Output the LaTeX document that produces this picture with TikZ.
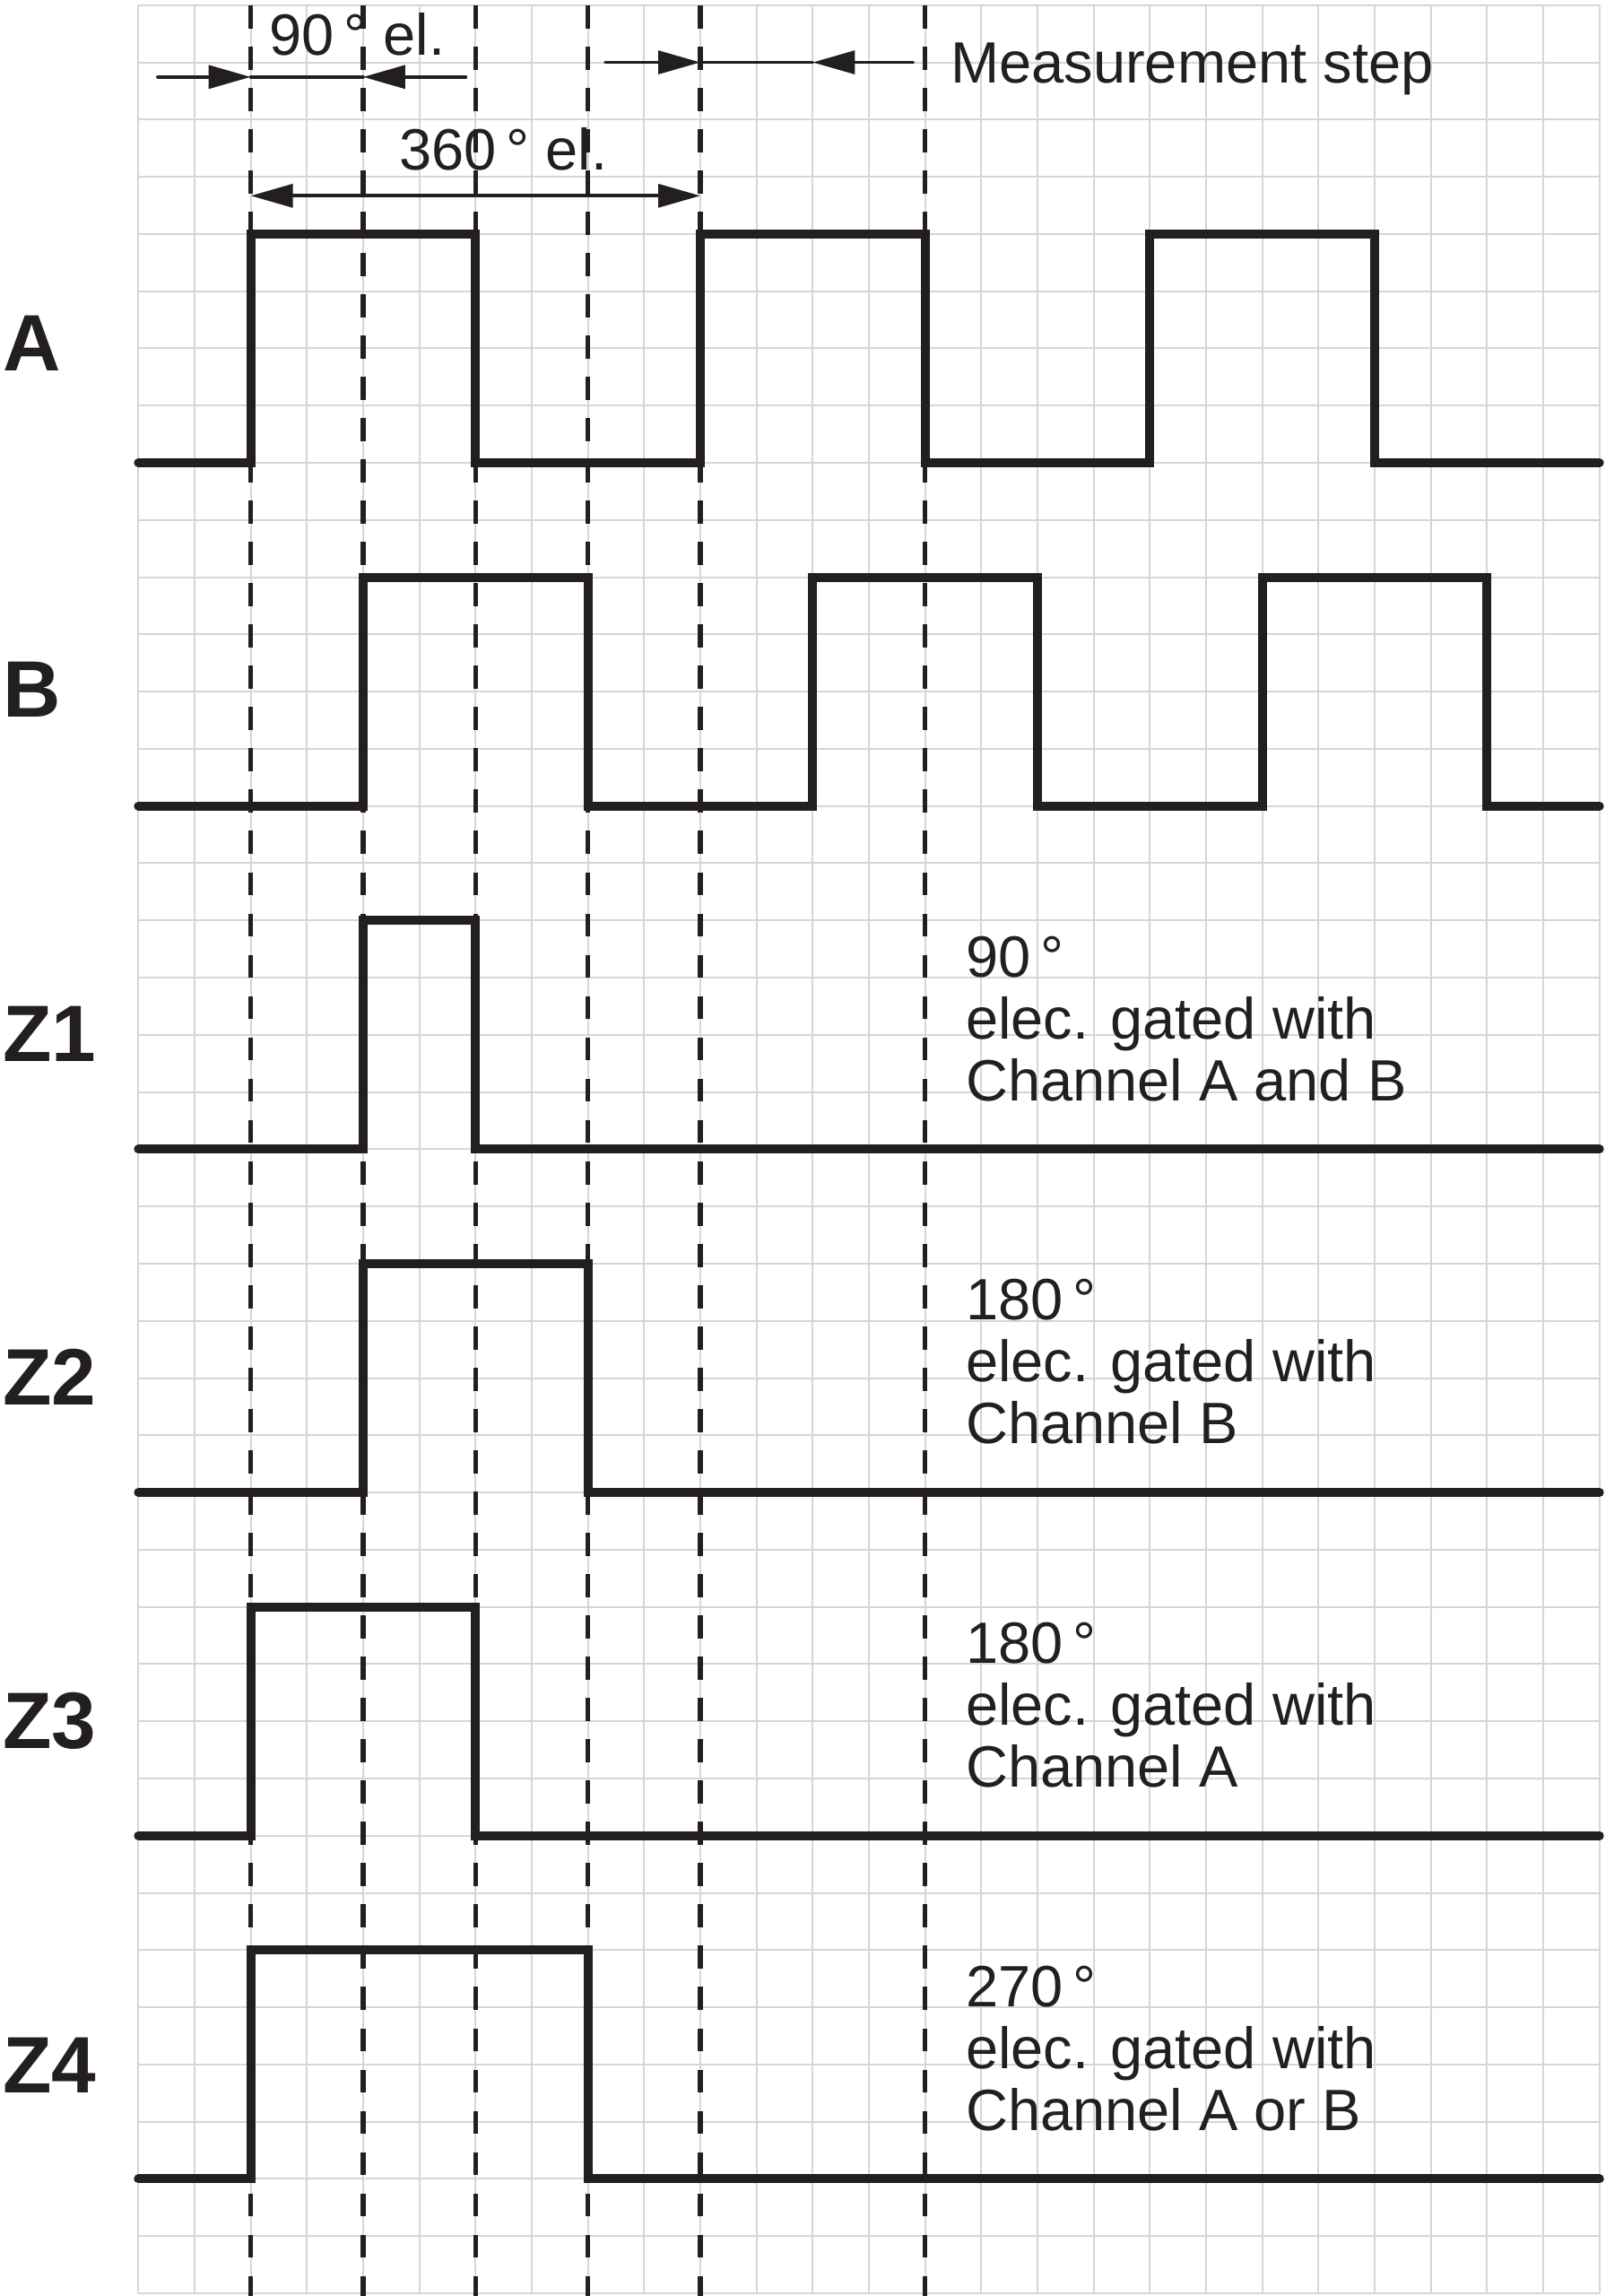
\documentclass[tikz,border=0pt]{standalone}
\usepackage{fontspec}
\setmainfont{Liberation Sans}
\usepackage{xcolor}
\usetikzlibrary{arrows.meta,positioning}
\definecolor{ink}{RGB}{35,31,32}
\definecolor{gridgray}{RGB}{214,214,214}

\begin{document}
\begin{tikzpicture}[x=1cm,y=1.0177cm,
            gridline/.style={draw=gridgray,line width=0.9pt},
            signal/.style={draw=ink,line width=4.5pt,line cap=round},
            edgeline/.style={draw=ink,line width=2.3pt,dash pattern=on 11.7pt off 9.2pt},
            dim/.style={draw=ink,line width=1.7pt,line cap=round},
            headend/.style={-{Triangle[length=21.3pt,width=11.7pt]}},
            headboth/.style={{Triangle[length=21.3pt,width=11.7pt]}-{Triangle[length=21.3pt,width=11.7pt]}},
            chan/.style={font=\fontsize{40.5}{42}\selectfont\bfseries,text=ink,inner sep=0pt,anchor=base west},
            note/.style={font=\fontsize{29.5}{31.3}\selectfont,text=ink,inner sep=0pt,anchor=base west,align=left}]
            \useasboundingbox (-2.462,-0.047) rectangle (26.116,40.091);
            \draw[gridline,step=1] (0,0) grid (26,40);
            \foreach \x in {2,4,6,8,10,14}
                \draw[edgeline] (\x,40) -- (\x,-0.05);
            \draw[signal] (0,32) -| (2,36) -| (6,32) -| (10,36) -| (14,32) -| (18,36) -| (22,32) -- (26,32);
            \draw[signal] (0,26) -| (4,30) -| (8,26) -| (12,30) -| (16,26) -| (20,30) -| (24,26) -- (26,26);
            \draw[signal] (0,20) -| (4,24) -| (6,20) -- (26,20);
            \draw[signal] (0,14) -| (4,18) -| (8,14) -- (26,14);
            \draw[signal] (0,8) -| (2,12) -| (6,8) -- (26,8);
            \draw[signal] (0,2) -| (2,6) -| (8,2) -- (26,2);
            \node[chan] (labA) at (-2.42,33.6) {A};
            \node[chan] (labB) at (-2.42,27.55) {B};
            \node[chan] (labZ1) at (-2.42,21.53) {Z1};
            \node[chan] (labZ2) at (-2.42,15.53) {Z2};
            \node[chan] (labZ3) at (-2.42,9.53) {Z3};
            \node[chan] (labZ4) at (-2.42,3.5) {Z4};
            \coordinate (ninetyL) at (0.346,38.745);
            \coordinate (ninetyS) at (2,38.745);
            \coordinate (ninetyE) at (4,38.745);
            \coordinate (ninetyR) at (5.824,38.745);
            \draw[dim,headend] (ninetyL) -- (ninetyS);
            \draw[dim] (ninetyS) -- (ninetyE);
            \draw[dim,headend] (ninetyR) -- (ninetyE);
            \node[note] (txtNinety) at (2.33,39.13) {90\,° el.};
            \coordinate (periodS) at (2,36.668);
            \coordinate (periodE) at (10,36.668);
            \draw[dim,headboth] (periodS) -- (periodE);
            \node[note] (txtPeriod) at (4.64,37.126) {360\,° el.};
            \coordinate (stepL) at (8.309,39);
            \coordinate (stepS) at (10,39);
            \coordinate (stepE) at (12,39);
            \coordinate (stepR) at (13.787,39);
            \draw[dim,headend] (stepL) -- (stepS);
            \draw[dim] (stepS) -- (stepE);
            \draw[dim,headend] (stepR) -- (stepE);
            \node[note] (txtStep) at (14.45,38.64) {Measurement step};
            \node[note] (txtZ1) at (14.72,20.85) {90\,°\\elec. gated with\\Channel A and B};
            \node[note] (txtZ2) at (14.72,14.85) {180\,°\\elec. gated with\\Channel B};
            \node[note] (txtZ3) at (14.72,8.85) {180\,°\\elec. gated with\\Channel A};
            \node[note] (txtZ4) at (14.72,2.85) {270\,°\\elec. gated with\\Channel A or B};
\end{tikzpicture}
\end{document}
